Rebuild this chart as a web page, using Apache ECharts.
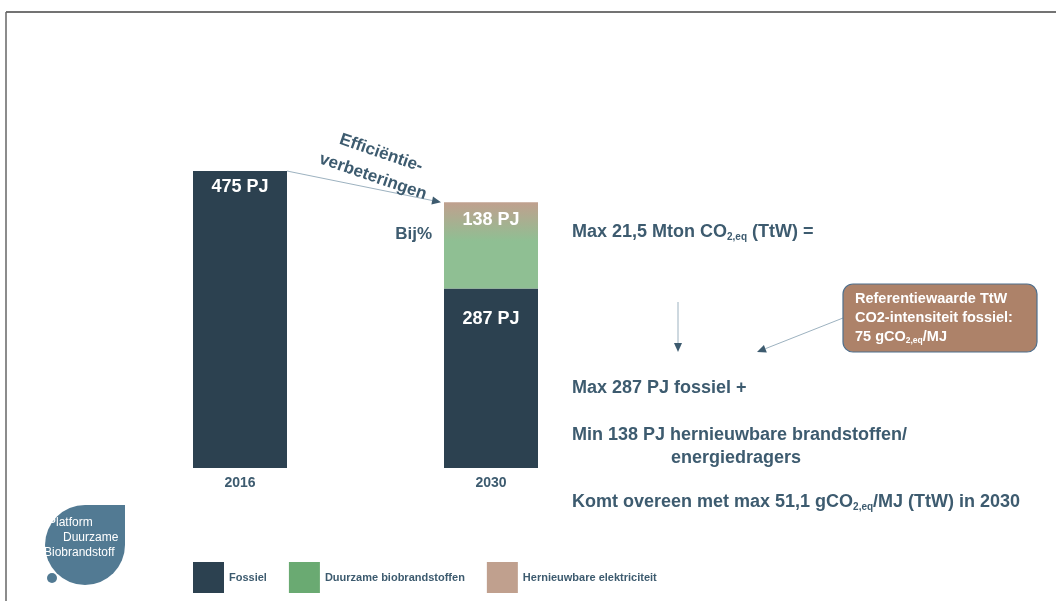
<!DOCTYPE html>
<html><head><meta charset="utf-8">
<script src="https://cdn.jsdelivr.net/npm/echarts@6/dist/echarts.min.js"></script>
<style>html,body{margin:0;padding:0;background:#fff}#c{width:1056px;height:601px}</style>
</head><body><div id="c"></div>
<script>
const categories = ['2016', '2030'];
const fossiel = [475, 287];
const hernieuwbaar = [null, 138];
const legendNames = ['Fossiel', 'Duurzame biobrandstoffen', 'Hernieuwbare elektriciteit'];

const TXT = '#3d5b6f';
const FONT = '"Liberation Sans", Arial, sans-serif';

const chart = echarts.init(document.getElementById('c'));

const labelBase = {show: true, position: 'insideTop', color: '#fff', fontSize: 18, fontWeight: 'bold', fontFamily: FONT, formatter: '{c} PJ'};

chart.setOption({
  animation: false,
  backgroundColor: '#fff',
  grid: {left: 114.5, right: 439.5, top: 155.4, bottom: 133},
  xAxis: {type: 'category', data: categories, axisLine: {show: false}, axisTick: {show: false},
    axisLabel: {color: TXT, fontSize: 14, fontWeight: 'bold', fontFamily: FONT, margin: 8}},
  yAxis: {type: 'value', min: 0, max: 500, show: false, splitLine: {show: false}},
  legend: {left: 188, top: 557, itemWidth: 31, itemHeight: 31, itemGap: 22, icon: 'rect',
    textStyle: {color: TXT, fontSize: 11, fontWeight: 'bold', fontFamily: FONT},
    data: [
      {name: legendNames[0], itemStyle: {color: '#2c4150'}},
      {name: legendNames[1], itemStyle: {color: '#6aaa72'}},
      {name: legendNames[2], itemStyle: {color: '#c0a08e'}}
    ]},
  series: [
    {name: legendNames[0], type: 'bar', stack: 'a', barWidth: 94, itemStyle: {color: '#2c4150'},
      data: fossiel.map((v, i) => ({value: v, label: Object.assign({}, labelBase, {distance: i === 0 ? 7 : 21})}))},
    {name: legendNames[1], type: 'bar', stack: 'a', barWidth: 94,
      itemStyle: {color: new echarts.graphic.LinearGradient(0, 0, 0, 1, [
        {offset: 0, color: '#c0a08e'}, {offset: 0.45, color: '#8fbf93'}, {offset: 1, color: '#8fbf93'}])},
      data: hernieuwbaar.map(v => ({value: v, label: Object.assign({}, labelBase, {distance: 9})}))},
    {name: legendNames[2], type: 'bar', stack: 'a', barWidth: 94, itemStyle: {color: '#c0a08e'}, data: []}
  ]
});

function arrow(x1, y1, x2, y2, color) {
  const ang = Math.atan2(y2 - y1, x2 - x1), L = 9, W = 4;
  const bx = x2 - L * Math.cos(ang), by = y2 - L * Math.sin(ang);
  const px = -Math.sin(ang) * W, py = Math.cos(ang) * W;
  return [
    {type: 'line', shape: {x1, y1, x2: bx, y2: by}, style: {stroke: color || '#9db2c0', lineWidth: 1}},
    {type: 'polygon', shape: {points: [[x2, y2], [bx + px, by + py], [bx - px, by - py]]}, style: {fill: '#3d5b6f'}}
  ];
}

const p16 = chart.convertToPixel({gridIndex: 0}, [0, fossiel[0]]);
const p30 = chart.convertToPixel({gridIndex: 0}, [1, fossiel[1] + hernieuwbaar[1]]);
const half = 47;

const big = {fontSize: 18, fontWeight: 'bold', fontFamily: FONT, fill: TXT};
const sub = {fontSize: 10, fontWeight: 'bold', fontFamily: FONT, fill: TXT, padding: [10, 0, 0, 0]};
const wbig = {fontSize: 14.5, fontWeight: 'bold', fontFamily: FONT, fill: '#fff'};
const wsub = {fontSize: 8.5, fontWeight: 'bold', fontFamily: FONT, fill: '#fff', padding: [8, 0, 0, 0]};

const graphics = [
  {type: 'line', shape: {x1: 6, y1: 12, x2: 1056, y2: 12}, style: {stroke: '#444', lineWidth: 1.5}},
  {type: 'line', shape: {x1: 6, y1: 12, x2: 6, y2: 601}, style: {stroke: '#666', lineWidth: 1.5}},
  ...arrow(p16[0] + half, p16[1], p30[0] - half - 3, p30[1]),
  {type: 'text', x: 377, y: 165, rotation: -0.33, style: {text: 'Efficiëntie-\nverbeteringen', align: 'center', verticalAlign: 'middle',
    fill: TXT, font: 'bold 17px ' + FONT, lineHeight: 25}},
  {type: 'text', x: 432, y: 234, style: {text: 'Bij%', align: 'right', verticalAlign: 'middle', fill: TXT, font: 'bold 17px ' + FONT}},
  {type: 'text', x: 572, y: 232, style: {text: '{a|Max 21,5 Mton CO}{s|2,eq}{a| (TtW) =}', verticalAlign: 'middle', rich: {a: big, s: sub}}},
  ...arrow(678, 302, 678, 352),
  ...arrow(843, 318, 757, 352),
  {type: 'rect', shape: {x: 843, y: 284, width: 194, height: 68, r: 10}, style: {fill: '#ad8269', stroke: '#4f6f8c', lineWidth: 1.2}},
  {type: 'text', x: 855, y: 318, style: {text: '{a|Referentiewaarde TtW}\n{a|CO2-intensiteit fossiel:}\n{a|75 gCO}{s|2,eq}{a|/MJ}',
    verticalAlign: 'middle', rich: {a: Object.assign({lineHeight: 19}, wbig), s: wsub}}},
  {type: 'text', x: 572, y: 388, style: {text: 'Max 287 PJ fossiel +', verticalAlign: 'middle', fill: TXT, font: 'bold 18px ' + FONT}},
  {type: 'text', x: 572, y: 435, style: {text: 'Min 138 PJ hernieuwbare brandstoffen/', verticalAlign: 'middle', fill: TXT, font: 'bold 18px ' + FONT}},
  {type: 'text', x: 736, y: 458, style: {text: 'energiedragers', align: 'center', verticalAlign: 'middle', fill: TXT, font: 'bold 18px ' + FONT}},
  {type: 'text', x: 572, y: 502, style: {text: '{a|Komt overeen met max 51,1 gCO}{s|2,eq}{a|/MJ (TtW) in 2030}', verticalAlign: 'middle', rich: {a: big, s: sub}}},
  // logo
  {type: 'group', x: 0, y: 0, children: [
    {type: 'circle', shape: {cx: 85, cy: 545, r: 40}, style: {fill: '#527a93'}},
    {type: 'rect', shape: {x: 85, y: 505, width: 40, height: 40}, style: {fill: '#527a93'}},
    {type: 'circle', shape: {cx: 52, cy: 578, r: 5}, style: {fill: '#527a93'}},
    {type: 'text', x: 48, y: 523, style: {text: 'Platform', fill: '#fff', font: '12px ' + FONT, verticalAlign: 'middle'}},
    {type: 'text', x: 63, y: 538, style: {text: 'Duurzame', fill: '#fff', font: '12px ' + FONT, verticalAlign: 'middle'}},
    {type: 'text', x: 44, y: 553, style: {text: 'Biobrandstoff', fill: '#fff', font: '12px ' + FONT, verticalAlign: 'middle'}}
  ]}
];
chart.setOption({graphic: graphics});
</script></body></html>
